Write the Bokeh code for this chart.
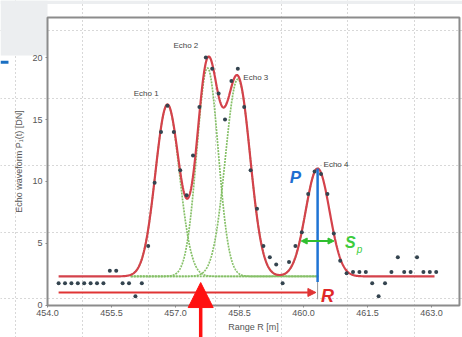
import numpy as np
from bokeh.plotting import figure
from bokeh.models import (Range1d, FixedTicker, PrintfTickFormatter, Arrow, NormalHead, Label)
from bokeh.embed import file_html
from bokeh.resources import INLINE
from bokeh.core.properties import value

# ---------------- data ----------------
baseline = 2.35
echo_names = ["Echo 1", "Echo 2", "Echo 3", "Echo 4"]
echo_centers = [456.81, 457.75, 458.46, 460.33]
echo_amplitudes = [13.85, 16.8, 15.9, 8.7]
echo_widths = [0.28, 0.25, 0.29, 0.28]

sample_range = [454.26, 454.41, 454.56, 454.71, 454.86, 455.01, 455.16, 455.31, 455.46, 455.61,
                455.76, 455.91, 456.06, 456.21, 456.36, 456.51, 456.66, 456.81, 456.96, 457.11,
                457.26, 457.41, 457.56, 457.71, 457.86, 458.01, 458.16, 458.31, 458.46, 458.61,
                458.76, 458.91, 459.06, 459.21, 459.36, 459.51, 459.66, 459.81, 459.96, 460.11,
                460.26, 460.41, 460.56, 460.71, 460.86, 461.01, 461.16, 461.31, 461.46, 461.61,
                461.76, 461.91, 462.06, 462.21, 462.36, 462.51, 462.66, 462.81, 462.96, 463.11]
sample_value = [1.8, 1.8, 1.8, 1.8, 1.8, 1.8, 1.8, 1.8, 2.8, 2.8,
                1.8, 1.8, 0.75, 1.8, 4.8, 9.9, 14.0, 16.1, 14.0, 10.9,
                8.9, 12.1, 16.0, 20.0, 19.1, 17.1, 15.0, 18.1, 19.1, 16.0,
                10.9, 7.8, 4.8, 3.9, 3.3, 1.8, 3.5, 4.8, 5.9, 9.0,
                10.8, 10.6, 9.0, 5.8, 3.6, 2.6, 2.7, 2.7, 2.7, 1.8,
                0.75, 1.8, 2.7, 3.9, 2.7, 2.7, 3.9, 2.7, 2.7, 2.7]

x_ticks = [454.0, 455.5, 457.0, 458.5, 460.0, 461.5, 463.0]
y_ticks = [0, 5, 10, 15, 20]

fit_start, fit_end = 454.26, 463.07
comp_start, comp_end = 455.95, 460.35

# ---------------- layout / annotation positions ----------------
# the plotting area covers the whole canvas; the chart box is drawn inside it
view_x = (452.898, 463.726)
view_y = (-2.581, 24.597)
box_left, box_right, box_bottom, box_top = 454.0, 463.655, 0.0, 23.226

echo_label_x = [456.02, 456.95, 458.59, 460.47]
echo_label_y = [17.1, 20.97, 18.4, 11.37]
pulse_width_half = 0.385
sp_y = 5.2
r_arrow_y = 1.05
big_arrow_x = 457.59

bg_grid_x = [453.25, 454.82, 456.37, 457.93, 459.48, 461.04, 462.60]
bg_grid_y = [0.56, 5.89, 11.29, 16.69, 22.18]

FONT = "Liberation Sans"


def gauss(x, c, a, s):
    return a * np.exp(-(x - c) ** 2 / (2 * s ** 2))


p = figure(width=462, height=337, x_range=Range1d(*view_x), y_range=Range1d(*view_y),
           output_backend="svg", toolbar_location=None,
           min_border_left=0, min_border_right=0, min_border_top=0, min_border_bottom=0)
p.outline_line_color = None
p.background_fill_color = "white"
p.border_fill_color = "white"

# slide decorations (gray block, top strip, blue tab)
p.quad(left=[view_x[0]], right=[box_left], bottom=[20.16], top=[view_y[1]],
       fill_color="#eceef0", line_color=None)
p.quad(left=[view_x[0]], right=[view_x[1]], bottom=[24.32], top=[view_y[1]],
       fill_color="#eceef0", line_color=None)
p.quad(left=[view_x[0]], right=[453.085], bottom=[19.5], top=[19.74],
       fill_color="#1a6fc2", line_color=None)

# background dotted grid
p.xgrid.ticker = FixedTicker(ticks=bg_grid_x)
p.ygrid.ticker = FixedTicker(ticks=bg_grid_y)
for g in (p.xgrid, p.ygrid):
    g.grid_line_color = "#b0b0b0"
    g.grid_line_dash = "1 3"
    g.grid_line_width = 1

# chart box
p.quad(left=[box_left], right=[box_right], bottom=[box_bottom], top=[box_top],
       fill_color=None, line_color="#8c8c8c", line_width=2)

# axes placed on the box edges
p.xaxis.fixed_location = box_bottom
p.yaxis.fixed_location = box_left
p.xaxis.bounds = (box_left, box_right)
p.yaxis.bounds = (box_bottom, box_top)
p.xaxis.ticker = FixedTicker(ticks=x_ticks)
p.xaxis.formatter = PrintfTickFormatter(format="%.1f")
p.yaxis.ticker = FixedTicker(ticks=y_ticks)
p.xaxis.axis_label = "Range R [m]"
p.yaxis.axis_label = "Echo waveform P\u2081(t) [DN]"
for ax in (p.xaxis, p.yaxis):
    ax.axis_line_color = None
    ax.major_tick_line_color = "#888888"
    ax.major_tick_out = 2
    ax.major_tick_in = 0
    ax.minor_tick_line_color = None
    ax.major_label_text_font = FONT
    ax.major_label_text_font_size = "9px"
    ax.major_label_text_color = "#555555"
    ax.axis_label_text_font = FONT
    ax.axis_label_text_font_size = "9px"
    ax.axis_label_text_font_style = "normal"
    ax.axis_label_text_color = "#555555"
    ax.major_label_standoff = 3
p.xaxis.axis_label_standoff = 2
p.yaxis.axis_label_standoff = 5

# component gaussians (green dotted)
xc = np.linspace(comp_start, comp_end, 500)
for c, a, s in zip(echo_centers, echo_amplitudes, echo_widths):
    p.line(xc, baseline + gauss(xc, c, a, s), line_color="#86c068", line_width=1.7,
           line_dash="2 1")

# fitted sum (red)
xf = np.linspace(fit_start, fit_end, 900)
yf = baseline + sum(gauss(xf, c, a, s) for c, a, s in zip(echo_centers, echo_amplitudes, echo_widths))
p.line(xf, yf, line_color="#d4424b", line_width=2.2)

# samples
p.scatter(sample_range, sample_value, size=4, fill_color="#34444f", line_color=None)

# echo labels
p.text(x=echo_label_x, y=echo_label_y, text=echo_names, text_font=value(FONT),
       text_font_size="8px", text_color="#444444", text_baseline="middle", text_align="left")

# amplitude P: blue vertical line at echo 4
c4 = echo_centers[3]
peak4 = baseline + sum(gauss(c4, c, a, s) for c, a, s in zip(echo_centers, echo_amplitudes, echo_widths))
p.segment(x0=[c4], y0=[1.9], x1=[c4], y1=[0.5], line_color="#999999", line_width=1)
p.segment(x0=[c4], y0=[peak4], x1=[c4], y1=[1.9], line_color="#1f74d4", line_width=2.5)

# range R arrow
p.add_layout(Arrow(x_start=fit_start, y_start=r_arrow_y, x_end=c4 - 0.04, y_end=r_arrow_y,
                   line_color="#e03434", line_width=2,
                   end=NormalHead(size=8, fill_color="#e03434", line_color="#e03434")))

# pulse width Sp arrow
p.add_layout(Arrow(x_start=c4 - pulse_width_half, y_start=sp_y, x_end=c4 + pulse_width_half, y_end=sp_y,
                   line_color="#2fbf2f", line_width=2,
                   start=NormalHead(size=6, fill_color="#2fbf2f", line_color="#2fbf2f"),
                   end=NormalHead(size=6, fill_color="#2fbf2f", line_color="#2fbf2f")))

# big red pointer arrow
p.add_layout(Arrow(x_start=big_arrow_x, y_start=view_y[0] - 0.5, x_end=big_arrow_x, y_end=1.85,
                   line_color="#ff1010", line_width=3.5,
                   end=NormalHead(size=25, fill_color="#ff1010", line_color="#ff1010")))

# letters
p.add_layout(Label(x=459.81, y=10.3, text="P", text_font=FONT, text_font_size="17px",
                   text_font_style="bold italic", text_color="#1f6fd0",
                   text_align="center", text_baseline="middle"))
p.add_layout(Label(x=460.56, y=0.8, text="R", text_font=FONT, text_font_size="18px",
                   text_font_style="bold italic", text_color="#e02828",
                   text_align="center", text_baseline="middle"))
p.add_layout(Label(x=461.10, y=5.1, text="S", text_font=FONT, text_font_size="16px",
                   text_font_style="bold italic", text_color="#3ccc3c",
                   text_align="center", text_baseline="middle"))
p.add_layout(Label(x=461.31, y=4.5, text="p", text_font=FONT, text_font_size="10px",
                   text_font_style="italic", text_color="#3ccc3c",
                   text_align="center", text_baseline="middle"))

open("out.html", "w").write(file_html(p, INLINE))
